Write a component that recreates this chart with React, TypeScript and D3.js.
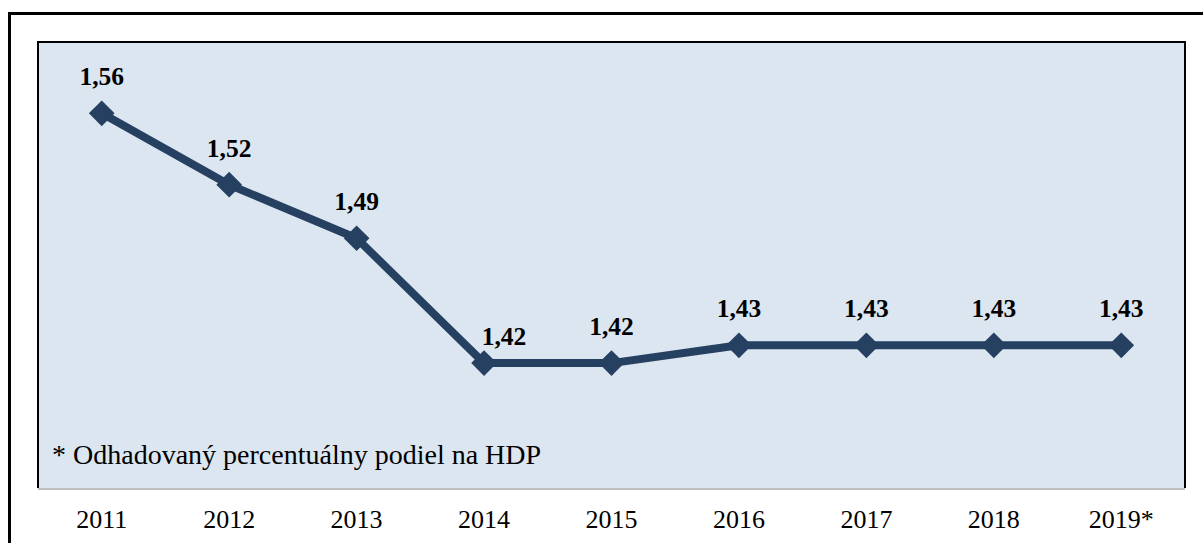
import React from "react";
import * as d3 from "d3";

const years = ["2011", "2012", "2013", "2014", "2015", "2016", "2017", "2018", "2019*"];
const values = [1.56, 1.52, 1.49, 1.42, 1.42, 1.43, 1.43, 1.43, 1.43];
const note = "* Odhadovaný percentuálny podiel na HDP";

const width = 1203;
const height = 543;
const plot = { left: 38, top: 42, right: 1185, bottom: 488 };
const lineColor = "#254061";

// label nudges, only the 2014 point has its label pushed right/down
const labelShift: Record<string, [number, number]> = { "2014": [20, 10] };

export default function App() {
  const x = d3
    .scaleBand()
    .domain(years)
    .range([plot.left, plot.right]);
  const y = d3
    .scaleLinear()
    .domain([1.35, 1.6])
    .range([plot.bottom, plot.top]);

  const cx = (d: string) => (x(d) as number) + x.bandwidth() / 2;
  const points = years.map((d, i) => ({ year: d, v: values[i], px: cx(d), py: y(values[i]) }));

  const line = d3
    .line<{ px: number; py: number }>()
    .x(d => d.px)
    .y(d => d.py);

  const diamond = d3.symbol().type(d3.symbolSquare).size(330)();
  const fmt = (v: number) => v.toFixed(2).replace(".", ",");

  return (
    <svg
      width={width}
      height={height}
      style={{ position: "absolute", left: 0, top: 0, background: "#fff" }}
      fontFamily="'Liberation Serif', 'Times New Roman', serif"
    >
      {/* outer frame, runs off the right and bottom edges */}
      <rect x={9.5} y={13.5} width={1210} height={560} fill="none" stroke="#000" strokeWidth={3} />

      {/* plot area */}
      <rect
        x={plot.left}
        y={plot.top}
        width={plot.right - plot.left}
        height={plot.bottom - plot.top}
        fill="#DCE6F1"
      />
      <path
        d={`M${plot.left},${plot.bottom}V${plot.top}H${plot.right}V${plot.bottom}`}
        fill="none"
        stroke="#000"
        strokeWidth={2}
      />
      <line
        x1={plot.left}
        x2={plot.right}
        y1={plot.bottom + 1}
        y2={plot.bottom + 1}
        stroke="#C0C0C0"
        strokeWidth={2}
      />

      <path d={line(points) || ""} fill="none" stroke={lineColor} strokeWidth={8} strokeLinejoin="round" />
      {points.map(p => (
        <path key={p.year} d={diamond || ""} transform={`translate(${p.px},${p.py}) rotate(45)`} fill={lineColor} />
      ))}

      {points.map(p => {
        const [dx, dy] = labelShift[p.year] || [0, 0];
        return (
          <text
            key={"l" + p.year}
            x={p.px + dx}
            y={p.py - 28 + dy}
            textAnchor="middle"
            fontWeight="bold"
            fontSize={25.5}
            fill="#000"
          >
            {fmt(p.v)}
          </text>
        );
      })}

      <text x={52} y={464} fontSize={28} fill="#000">
        {note}
      </text>

      {years.map(d => (
        <text key={"x" + d} x={cx(d)} y={528} textAnchor="middle" fontSize={26} fill="#000">
          {d}
        </text>
      ))}
    </svg>
  );
}
